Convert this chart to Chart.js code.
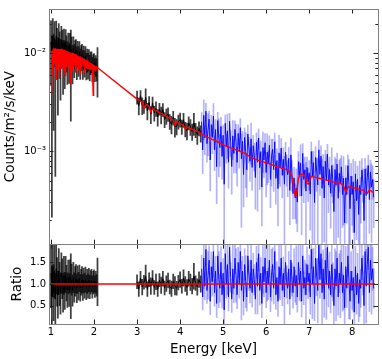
<!DOCTYPE html>
<html><head><meta charset="utf-8">
<script src="https://cdn.jsdelivr.net/npm/chart.js@4.4.0/dist/chart.umd.min.js"></script>
<style>html,body{margin:0;padding:0;background:#fff;}canvas{display:block;}</style>
</head><body>
<canvas id="c" width="382" height="359"></canvas>
<script>
// ---- energy bins (keV) ----
const seg1Start = 1.00, seg1Step = 0.02;    // black, low band
const seg2Start = 3.00, seg2Step = 0.04;    // black, mid band
const seg3Start = 4.50, seg3Step = 0.025;   // blue, high band
const modelLoStart = 1.00, modelLoStep = 0.01;

// continuum under black low-band data (x1e-3)
const cont1 = [10.4,10.6,10.7,10.8,10.9,11.0,11.0,11.1,11.1,11.0,
 11.0,11.0,10.9,10.9,10.8,10.7,10.6,10.6,10.5,10.4,
 10.3,10.2,10.2,10.1,10.0,9.9,9.8,9.7,9.6,9.5,
 9.4,9.3,9.2,9.1,9.0,8.9,8.8,8.7,8.6,8.5,
 8.4,8.3,8.2,8.1,8.0,7.9,7.8,7.7,7.6,7.5,
 7.45,7.4,7.3,7.2,7.1];
const ratio1 = [1.25,0.70,1.40,0.80,1.30,0.65,1.35,1.05,0.75,1.30,
 1.00,0.78,1.25,1.12,0.80,1.20,0.84,1.22,1.02,0.86,
 1.16,0.86,1.18,0.95,1.10,0.85,1.15,0.92,1.06,1.12,
 0.90,1.10,0.95,1.13,0.91,1.04,1.10,0.92,1.08,0.96,
 1.10,0.92,1.06,0.95,1.09,0.93,1.04,1.08,0.93,1.03,
 1.07,0.94,1.04,0.97,1.05];
const err1 = [0.80,0.72,0.70,0.65,0.63,0.60,0.58,0.56,0.54,0.52,
 0.50,0.48,0.47,0.46,0.45,0.44,0.43,0.42,0.41,0.40,
 0.39,0.38,0.38,0.75,0.36,0.36,0.35,0.34,0.34,0.33,
 0.33,0.32,0.32,0.31,0.31,0.30,0.30,0.30,0.29,0.29,
 0.29,0.28,0.28,0.28,0.27,0.27,0.27,0.26,0.26,0.26,
 0.26,0.25,0.25,0.25,0.55];

// model, mid band (x1e-3)
const model2 = [3.39,3.30,3.22,3.14,2.75,2.99,2.92,2.85,2.50,2.72,
 2.65,2.59,2.53,2.47,2.42,2.37,2.31,2.26,2.21,2.16,
 2.11,2.07,1.85,1.98,1.94,1.91,1.87,1.83,1.68,1.76,
 1.73,1.70,1.67,1.64,1.61,1.58,1.55,1.52];
const ratio2 = [1.05,0.88,1.14,0.93,1.04,1.18,0.88,1.10,0.95,1.14,
 0.92,1.05,0.88,1.09,0.97,1.12,0.91,1.01,1.08,0.93,
 0.89,1.06,0.96,0.90,1.03,1.10,0.95,1.14,1.00,0.92,
 1.12,1.04,0.95,1.18,1.02,0.93,1.10,1.00];
const err2 = [0.16,0.17,0.15,0.18,0.16,0.26,0.17,0.16,0.19,0.17,
 0.16,0.18,0.17,0.15,0.19,0.17,0.16,0.18,0.17,0.16,
 0.18,0.17,0.21,0.16,0.17,0.18,0.16,0.19,0.17,0.18,
 0.17,0.19,0.18,0.30,0.17,0.19,0.18,0.19];

// model, high band (x1e-4)
const model3 = [14.8,14.65,14.5,14.35,14.2,14.0,13.8,13.65,13.5,13.3,
 13.1,13.0,12.9,12.75,12.6,12.4,12.2,12.05,11.9,11.75,
 11.6,11.45,11.3,11.2,11.1,11.0,10.9,10.8,10.7,10.6,
 10.5,10.4,10.3,10.2,10.1,10.0,9.9,9.8,9.7,9.6,
 9.5,9.35,9.2,9.05,8.9,8.75,8.6,8.5,8.4,8.3,
 8.25,8.2,8.1,8.0,7.95,7.9,7.8,7.75,7.7,7.6,
 7.55,7.5,7.45,7.4,7.35,7.3,7.2,7.15,7.1,7.0,
 6.95,6.9,6.85,6.8,6.7,6.65,6.6,6.55,6.5,6.45,
 6.35,6.25,6.1,5.9,5.4,4.6,3.8,3.5,3.5,4.3,
 5.2,5.6,5.8,5.8,5.75,5.7,5.6,5.2,4.7,4.6,
 4.8,5.2,5.5,5.5,5.45,5.42,5.4,5.35,5.3,5.28,
 5.25,5.22,5.2,5.15,5.1,5.08,5.05,5.02,5.0,4.98,
 4.95,4.9,4.85,4.82,4.8,4.7,4.6,4.7,4.75,4.7,
 4.6,4.5,4.4,4.1,3.8,4.0,4.3,4.3,4.3,4.28,
 4.25,4.22,4.2,4.18,4.15,4.12,4.1,4.05,4.0,4.0,
 4.0,3.9,3.75,3.7,3.7,3.85,4.0,3.95,3.9,3.8,
 3.75];
const ratio3 = [1.35,0.70,1.60,0.95,1.80,0.85,1.20,1.55,0.60,1.40,
 1.05,1.75,0.80,1.30,0.55,1.65,1.10,0.90,1.50,0.75,
 1.25,0.40,1.70,1.00,1.45,0.70,1.85,1.15,0.65,1.35,
 0.90,1.60,1.20,0.75,1.50,1.00,1.75,0.85,1.30,0.60,
 1.45,1.05,0.70,1.65,1.20,0.90,1.55,0.80,1.35,1.10,
 0.65,1.50,0.95,1.70,0.85,1.25,0.55,1.40,1.05,1.60,
 0.80,1.30,1.00,1.55,0.70,1.20,1.45,0.90,1.75,0.75,
 1.15,0.60,1.40,1.00,1.60,0.85,1.25,0.70,1.50,1.05,
 0.90,1.35,0.65,1.55,1.10,0.80,1.40,0.95,1.20,0.70,
 1.50,1.00,1.30,0.60,1.65,0.90,1.15,0.75,1.45,1.05,
 1.25,0.70,1.80,1.00,1.40,0.55,1.60,1.15,0.85,1.95,
 1.10,1.70,0.80,1.35,0.65,1.55,1.00,1.85,0.90,1.30,
 0.75,1.45,1.05,0.50,1.35,0.95,1.60,0.70,1.25,1.00,
 1.50,0.80,1.20,0.45,1.40,0.90,1.65,1.05,0.60,1.30,
 0.85,1.15,0.35,1.40,0.75,1.25,0.55,1.10,0.90,1.60,
 1.20,0.50,1.75,0.95,1.45,1.85,0.80,1.55,1.10,1.35,
 0.90];
const err3 = [0.32,0.30,0.70,0.31,0.36,0.30,0.55,0.33,0.31,0.34,
 0.33,0.60,0.31,0.34,0.32,0.35,0.65,0.32,0.36,0.31,
 0.34,0.55,0.36,0.33,0.70,0.32,0.38,0.34,0.31,0.58,
 0.33,0.36,0.62,0.32,0.35,0.33,0.40,0.68,0.34,0.32,
 0.36,0.60,0.33,0.38,0.35,0.34,0.70,0.33,0.36,0.35,
 0.34,0.37,0.65,0.39,0.34,0.36,0.33,0.62,0.35,0.38,
 0.35,0.70,0.36,0.38,0.34,0.60,0.39,0.36,0.40,0.34,
 0.37,0.35,0.72,0.36,0.40,0.35,0.38,0.65,0.39,0.37,
 0.36,0.40,0.36,0.75,0.38,0.36,0.41,0.37,0.68,0.35,
 0.40,0.38,0.70,0.36,0.42,0.38,0.40,0.72,0.41,0.39,
 0.42,0.40,0.45,0.80,0.43,0.40,0.46,0.42,0.75,0.48,
 0.43,0.46,0.78,0.44,0.42,0.45,0.82,0.48,0.43,0.44,
 0.42,0.75,0.44,0.42,0.46,0.80,0.47,0.42,0.45,0.78,
 0.46,0.43,0.80,0.42,0.47,0.44,0.48,0.85,0.42,0.45,
 0.44,0.80,0.42,0.47,0.45,0.46,0.42,0.85,0.44,0.50,
 0.45,0.42,0.50,0.85,0.47,0.52,0.44,0.48,0.80,0.50,
 0.46];

// fine model with absorption lines, low band (x1e-3)
const modelLo = [4.0,9.0,10.5,6.0,10.6,10.8,7.0,10.9,7.8,11.0,
 11.0,6.2,5.4,11.1,8.0,11.1,6.8,11.1,9.2,7.5,
 5.6,11.0,8.0,11.0,7.0,10.9,10.9,7.6,10.8,6.6,
 10.7,10.7,8.0,5.9,10.6,8.4,10.5,7.2,10.4,9.6,
 7.8,10.3,6.8,10.2,10.2,8.0,4.8,10.1,8.2,10.0,
 6.5,9.9,9.9,7.2,9.8,7.8,9.7,9.7,6.3,9.5,
 9.4,7.6,9.3,9.3,6.7,9.2,9.1,7.6,6.2,9.0,
 8.9,8.9,7.2,8.8,8.7,8.7,7.4,8.6,6.3,8.5,
 8.4,8.4,7.1,8.3,8.2,6.9,8.1,8.1,7.6,6.8,
 7.9,7.9,7.8,6.9,7.7,7.7,7.6,5.5,3.7,7.5,
 7.45,7.4,7.4,6.6,7.3,7.3,7.2,6.9,7.1,7.05,7.0];

// ticks
const xTicks = [1,2,3,4,5,6,7,8];
const yTicks = [1e-3, 1e-2];
const yTickLabels = ['10\u207B\u00B3','10\u207B\u00B2'];
const yMinorTicks = [2e-4,3e-4,4e-4,5e-4,6e-4,7e-4,8e-4,9e-4,2e-3,3e-3,4e-3,5e-3,6e-3,7e-3,8e-3,9e-3,2e-2];
const ratioTicks = [0.5,1.0,1.5];

// ---- build ----
const grid = (s, d, n) => Array.from({length:n}, (_, i) => +(s + d*i).toFixed(4));
const E1 = grid(seg1Start, seg1Step, ratio1.length);
const E2 = grid(seg2Start, seg2Step, ratio2.length);
const E3 = grid(seg3Start, seg3Step, ratio3.length);
const EL = grid(modelLoStart, modelLoStep, modelLo.length);
const m1 = cont1.map(v => v*1e-3), m2 = model2.map(v => v*1e-3), m3 = model3.map(v => v*1e-4);

const stepPts = (E, r, m) => E.map((x, i) => ({x, y: m ? r[i]*m[i] : r[i]}));
const barPts = (E, r, e, m) => E.map((x, i) => {
  const lo = Math.max(r[i]-e[i], 0.02), hi = r[i]+e[i];
  return {x, y: m ? [lo*m[i], hi*m[i]] : [r[i]-e[i], hi]};
});
const gap = {x: 2.5, y: null};

const modelLine = [
  ...EL.map((x, i) => ({x, y: modelLo[i]*1e-3})),
  ...E2.map((x, i) => ({x, y: m2[i]})),
  ...E3.map((x, i) => ({x, y: m3[i]}))
];

const lineDs = (data, yAxisID, color, width, order) => ({
  type: 'line', data, yAxisID, xAxisID: 'x', borderColor: color, borderWidth: width,
  pointRadius: 0, fill: false, order, spanGaps: false, tension: 0
});
const barDs = (data, yAxisID, color, order, w) => ({
  type: 'bar', data, yAxisID, xAxisID: 'x', backgroundColor: color, borderWidth: 0,
  barThickness: w, grouped: false, order
});

const blackErr = 'rgba(0,0,0,0.75)';
const blueErr = 'rgba(0,0,255,0.3)';

const datasets = [
  lineDs(modelLine, 'y', '#ff0000', 1.4, 0),
  lineDs([{x: 0.99, y: 1}, {x: 8.53, y: 1}], 'yR', '#ff0000', 1.3, 0),
  lineDs([...stepPts(E1, ratio1, m1), gap, ...stepPts(E2, ratio2, m2)], 'y', '#000000', 1, 1),
  lineDs(stepPts(E3, ratio3, m3), 'y', '#0000ff', 0.9, 1),
  lineDs([...stepPts(E1, ratio1), gap, ...stepPts(E2, ratio2)], 'yR', '#000000', 1, 1),
  lineDs(stepPts(E3, ratio3), 'yR', '#0000ff', 0.9, 1),
  barDs([...barPts(E1, ratio1, err1, m1), ...barPts(E2, ratio2, err2, m2)], 'y', blackErr, 2, 1.1),
  barDs(barPts(E3, ratio3, err3, m3), 'y', blueErr, 2, 1),
  barDs([...barPts(E1, ratio1, err1), ...barPts(E2, ratio2, err2)], 'yR', blackErr, 2, 1.1),
  barDs(barPts(E3, ratio3, err3), 'yR', blueErr, 2, 1)
];

const FONT = "'DejaVu Sans', sans-serif";
Chart.defaults.font.family = FONT;
Chart.defaults.color = '#000';

const framePlugin = {
  id: 'frame',
  afterDraw(chart) {
    const {ctx} = chart;
    const {x, y, yR} = chart.scales;
    const L = x.left, R = x.right;
    const seg = (x0, y0, x1, y1) => { ctx.moveTo(x0, y0); ctx.lineTo(x1, y1); };
    const hp = v => Math.round(v) + 0.5;
    ctx.save();
    ctx.strokeStyle = '#222'; ctx.lineWidth = 1;
    ctx.beginPath();
    const panels = [[y.top, y.bottom], [yR.top, yR.bottom]];
    for (const [t, b] of panels) {
      for (const v of xTicks) {
        const px = hp(x.getPixelForValue(v));
        seg(px, t, px, t + 4.5); seg(px, b, px, b - 4.5);
      }
    }
    for (const v of yTicks) {
      const py = hp(y.getPixelForValue(v));
      seg(L, py, L + 4.5, py); seg(R, py, R - 4.5, py);
    }
    for (const v of yMinorTicks) {
      const py = hp(y.getPixelForValue(v));
      seg(L, py, L + 2.7, py); seg(R, py, R - 2.7, py);
    }
    for (const v of ratioTicks) {
      const py = hp(yR.getPixelForValue(v));
      seg(L, py, L + 4.5, py); seg(R, py, R - 4.5, py);
    }
    ctx.stroke();
    ctx.strokeStyle = '#808080'; ctx.lineWidth = 1;
    ctx.strokeRect(hp(L), hp(y.top), Math.round(R) - Math.round(L), Math.round(y.bottom) - Math.round(y.top));
    ctx.strokeRect(hp(L), hp(yR.top), Math.round(R) - Math.round(L), Math.round(yR.bottom) - Math.round(yR.top));
    ctx.restore();
  }
};

new Chart(document.getElementById('c'), {
  type: 'line',
  data: {datasets},
  options: {
    responsive: false,
    animation: false,
    devicePixelRatio: 1,
    layout: {padding: {top: 3, right: 4, left: 0, bottom: 0}},
    plugins: {legend: {display: false}, tooltip: {enabled: false}},
    events: [],
    scales: {
      x: {
        type: 'linear', position: 'bottom', min: 0.953, max: 8.6, bounds: 'data', offset: false,
        grid: {display: false, drawTicks: false}, border: {display: false},
        afterBuildTicks: s => { s.ticks = xTicks.map(v => ({value: v})); },
        afterFit: s => { s.height = 35; },
        ticks: {padding: 2, font: {size: 10}, maxRotation: 0, autoSkip: false, callback: v => String(v)},
        title: {display: true, text: 'Energy [keV]', font: {size: 13.5}, padding: {top: 0, bottom: 1}}
      },
      y: {
        type: 'logarithmic', position: 'left', min: 1.12e-4, max: 0.0282, bounds: 'data',
        stack: 'v', stackWeight: 2.947, weight: 1, offset: false,
        grid: {display: false, drawTicks: false}, border: {display: false},
        afterBuildTicks: s => { s.ticks = yTicks.map(v => ({value: v})); },
        afterFit: s => { s.width = 49; },
        ticks: {padding: 3, font: {size: 10}, autoSkip: false,
          callback: v => { const i = yTicks.findIndex(t => Math.abs(t - v) / t < 1e-6); return i >= 0 ? yTickLabels[i] : ''; }},
        title: {display: true, text: 'Counts/m\u00B2/s/keV', font: {size: 13.5}, padding: {top: 2, bottom: 0}}
      },
      yR: {
        type: 'linear', position: 'left', min: 0.075, max: 1.92, bounds: 'data',
        stack: 'v', stackWeight: 1, weight: 0, offset: false,
        grid: {display: false, drawTicks: false}, border: {display: false},
        afterBuildTicks: s => { s.ticks = ratioTicks.map(v => ({value: v})); },
        afterFit: s => { s.width = 49; },
        ticks: {padding: 3, font: {size: 10}, autoSkip: false, callback: v => Number(v).toFixed(1)},
        title: {display: true, text: 'Ratio', font: {size: 13.5}, padding: {top: 9, bottom: 0}}
      }
    }
  },
  plugins: [framePlugin]
});
</script>
</body></html>
